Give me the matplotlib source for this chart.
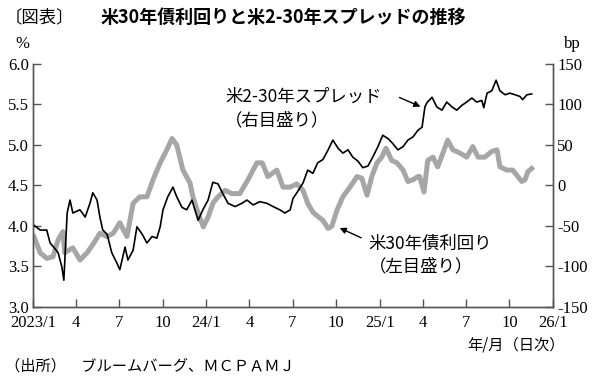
import numpy as np
import pandas as pd
import matplotlib
matplotlib.use("Agg")
import matplotlib.pyplot as plt

# 米30年債利回り (%), left axis
yield_dates = ['2023-01-03', '2023-01-16', '2023-01-30', '2023-02-12', '2023-02-23', '2023-03-05',
               '2023-03-09', '2023-03-26', '2023-04-10', '2023-04-25', '2023-05-07', '2023-05-22',
               '2023-06-06', '2023-06-19', '2023-07-03', '2023-07-18', '2023-07-31', '2023-08-14',
               '2023-08-29', '2023-09-11', '2023-09-26', '2023-10-10', '2023-10-21', '2023-10-31',
               '2023-11-13', '2023-11-28', '2023-12-04', '2023-12-15', '2023-12-26', '2024-01-05',
               '2024-01-15', '2024-01-26', '2024-02-10', '2024-02-24', '2024-03-12', '2024-03-29',
               '2024-04-17', '2024-04-28', '2024-05-10', '2024-05-29', '2024-06-11', '2024-06-26',
               '2024-07-10', '2024-07-23', '2024-08-02', '2024-08-13', '2024-08-23', '2024-09-03',
               '2024-09-14', '2024-09-22', '2024-10-03', '2024-10-15', '2024-10-30', '2024-11-14',
               '2024-11-24', '2024-12-05', '2024-12-15', '2024-12-26', '2025-01-05', '2025-01-14',
               '2025-01-26', '2025-02-06', '2025-02-19', '2025-03-01', '2025-03-12', '2025-03-22',
               '2025-03-26', '2025-04-04', '2025-04-12', '2025-04-23', '2025-05-03', '2025-05-14',
               '2025-05-24', '2025-06-04', '2025-06-19', '2025-07-03', '2025-07-16', '2025-07-27',
               '2025-08-10', '2025-08-25', '2025-09-05', '2025-09-11', '2025-09-26', '2025-10-08',
               '2025-10-19', '2025-10-27', '2025-11-03', '2025-11-09', '2025-11-17']
yield30 = [3.87, 3.67, 3.60, 3.62, 3.83, 3.93,
           3.67, 3.73, 3.58, 3.67, 3.77, 3.91,
           3.87, 3.91, 4.04, 3.87, 4.28, 4.36,
           4.36, 4.57, 4.78, 4.94, 5.08, 5.00,
           4.69, 4.53, 4.36, 4.16, 3.99, 4.11,
           4.28, 4.36, 4.44, 4.40, 4.40, 4.57,
           4.78, 4.78, 4.61, 4.69, 4.48, 4.48,
           4.52, 4.44, 4.28, 4.17, 4.12, 4.07,
           3.97, 4.00, 4.20, 4.36, 4.48, 4.61,
           4.59, 4.38, 4.61, 4.78, 4.85, 4.96,
           4.81, 4.78, 4.69, 4.55, 4.57, 4.61,
           4.61, 4.42, 4.81, 4.85, 4.73, 4.90,
           5.06, 4.94, 4.90, 4.85, 4.98, 4.85,
           4.85, 4.92, 4.94, 4.73, 4.69, 4.69,
           4.61, 4.55, 4.57, 4.67, 4.71]

# 米2-30年スプレッド (bp), right axis
spread_dates = ['2023-01-03', '2023-01-16', '2023-01-30', '2023-02-06', '2023-02-12', '2023-02-23',
                '2023-03-03', '2023-03-07', '2023-03-14', '2023-03-20', '2023-03-26', '2023-04-10',
                '2023-04-21', '2023-05-01', '2023-05-07', '2023-05-16', '2023-05-22', '2023-05-28',
                '2023-06-06', '2023-06-16', '2023-06-27', '2023-07-03', '2023-07-14', '2023-07-20',
                '2023-07-31', '2023-08-08', '2023-08-19', '2023-08-29', '2023-09-09', '2023-09-19',
                '2023-09-26', '2023-10-02', '2023-10-12', '2023-10-23', '2023-10-31', '2023-11-11',
                '2023-11-21', '2023-12-02', '2023-12-15', '2023-12-25', '2024-01-05', '2024-01-15',
                '2024-01-26', '2024-02-05', '2024-02-16', '2024-03-02', '2024-03-16', '2024-03-27',
                '2024-04-09', '2024-04-23', '2024-05-08', '2024-05-21', '2024-06-04', '2024-06-15',
                '2024-06-26', '2024-07-02', '2024-07-10', '2024-07-23', '2024-08-02', '2024-08-13',
                '2024-08-23', '2024-09-03', '2024-09-14', '2024-09-24', '2024-10-05', '2024-10-15',
                '2024-10-26', '2024-11-05', '2024-11-16', '2024-11-26', '2024-12-07', '2024-12-17',
                '2024-12-28', '2025-01-07', '2025-01-18', '2025-01-28', '2025-02-08', '2025-02-19',
                '2025-03-01', '2025-03-12', '2025-03-22', '2025-03-31', '2025-04-06', '2025-04-10',
                '2025-04-21', '2025-05-01', '2025-05-12', '2025-05-22', '2025-06-02', '2025-06-12',
                '2025-06-23', '2025-07-03', '2025-07-14', '2025-07-24', '2025-08-04', '2025-08-08',
                '2025-08-15', '2025-08-25', '2025-09-03', '2025-09-11', '2025-09-22', '2025-10-02',
                '2025-10-13', '2025-10-23', '2025-10-29', '2025-11-07', '2025-11-17']
spread = [-49, -55, -55, -71, -75, -83,
          -101, -117, -34, -18, -34, -30,
          -39, -22, -9, -18, -39, -55,
          -60, -83, -96, -104, -76, -92,
          -80, -51, -60, -71, -63, -65,
          -51, -30, -14, -2, -14, -27,
          -30, -18, -43, -30, -18, 4,
          2, -10, -22, -26, -22, -18,
          -24, -20, -22, -26, -30, -34,
          -30, -16, -9, 3, 19, 15,
          28, 32, 44, 56, 46, 40,
          44, 35, 30, 22, 24, 35,
          48, 62, 58, 52, 44, 48,
          56, 60, 68, 72, 97, 102,
          109, 97, 93, 103, 97, 93,
          99, 103, 108, 103, 105, 96,
          114, 117, 130, 117, 112, 114,
          112, 110, 106, 112, 113]

tick_dates = pd.date_range('2023-01-01', '2026-01-01', freq='QS')
tick_labels = ['2023/1', '4', '7', '10', '24/1', '4', '7', '10', '25/1', '4', '7', '10', '26/1']

jp = ['Noto Sans CJK JP', 'DejaVu Sans']
num = ['Liberation Serif', 'DejaVu Serif']
axis_color = '#555555'

fig = plt.figure(figsize=(6, 3.85), dpi=100)
ax = fig.add_axes([0.055, 0.2026, 0.8667, 0.6312])
ax2 = ax.twinx()

ax.plot(pd.to_datetime(yield_dates), yield30, color='#a6a6a6', lw=3.6, solid_joinstyle='round')
ax2.plot(pd.to_datetime(spread_dates), spread, color='black', lw=1.2)

ax.set_xlim(pd.Timestamp('2023-01-01'), pd.Timestamp('2026-01-01'))
ax.set_ylim(3.0, 6.0)
ax2.set_ylim(-150, 150)
ax.set_yticks(np.arange(3.0, 6.01, 0.5))
ax.set_yticklabels(['%.1f' % v for v in np.arange(3.0, 6.01, 0.5)], family=num, fontsize=12)
ax2.set_yticks(np.arange(-150, 151, 50))
ax2.set_yticklabels([str(v) for v in range(-150, 151, 50)], family=num, fontsize=12)
ax.set_xticks(tick_dates)
ax.set_xticklabels(tick_labels, family=num, fontsize=12)

for a in (ax, ax2):
    a.spines['top'].set_visible(False)
    for s in ('left', 'right', 'bottom'):
        a.spines[s].set_color(axis_color)
        a.spines[s].set_linewidth(1.0)
    a.tick_params(direction='in', length=6, width=1.0, color=axis_color, pad=3)
ax.tick_params(axis='x', pad=6)

# titles and units
fig.text(0.008, 0.955, '〔図表〕', family=jp, fontsize=12.5, va='center', ha='left')
fig.text(0.168, 0.955, '米30年債利回りと米2-30年スプレッドの推移', family=jp, fontsize=13,
         fontweight='bold', va='center', ha='left')
fig.text(0.025, 0.885, '%', family=num, fontsize=12, va='center', ha='left')
fig.text(0.94, 0.885, 'bp', family=num, fontsize=12, va='center', ha='left')
fig.text(0.942, 0.105, '年/月（日次）', family=jp, fontsize=11, va='center', ha='right')
fig.text(0.008, 0.048, '（出所）　ブルームバーグ、ＭＣＰＡＭＪ', family=jp, fontsize=11, va='center', ha='left')

# series labels with arrows
ax.text(pd.Timestamp('2024-02-10'), 5.45, '米2-30年スプレッド\n（右目盛り）', family=jp, fontsize=12.5,
        va='center', ha='left', linespacing=1.35)
ax.annotate('', xy=(pd.Timestamp('2025-04-02'), 5.46), xytext=(pd.Timestamp('2025-02-06'), 5.6),
            arrowprops=dict(arrowstyle='-|>', color='black', lw=1.0, mutation_scale=9))
ax.text(pd.Timestamp('2024-12-08'), 3.64, '米30年債利回り\n（左目盛り）', family=jp, fontsize=12.5,
        va='center', ha='left', linespacing=1.35)
ax.annotate('', xy=(pd.Timestamp('2024-10-03'), 3.99), xytext=(pd.Timestamp('2024-11-28'), 3.84),
            arrowprops=dict(arrowstyle='-|>', color='black', lw=1.0, mutation_scale=9))

plt.savefig('out.png', dpi=100)
